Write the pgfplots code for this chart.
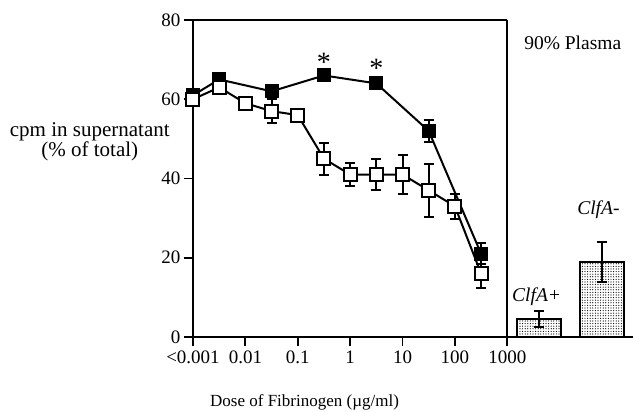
\documentclass[border=0pt]{standalone}
\usepackage{pgfplots}
\pgfplotsset{compat=1.18}
\usepackage{fontspec}
\setmainfont{Liberation Serif}
\usetikzlibrary{patterns.meta}
\begin{document}
\begin{tikzpicture}
\useasboundingbox (-193pt,-75pt) rectangle (440pt,337pt);
\begin{axis}[
 at={(0,0)}, anchor=south west,
 scale only axis, width=440pt, height=317pt,
 xmin=-3, xmax=5.4, ymin=0, ymax=80,
 axis x line*=bottom, axis y line*=left,
 axis line style={line width=1.8pt, -},
 xtick={-3,-2,-1,0,1,2,3}, xticklabels={<0.001,0.01,0.1,1,10,100,1000},
 ytick={0,20,40,60,80},
 tick align=outside, major tick length=9pt,
 tick style={line width=1.8pt, black},
 ticklabel style={font=\fontsize{19}{20}\selectfont},
 xticklabel style={yshift=-1pt},
 /pgf/number format/assume math mode=true,
 clip=false,
 every axis plot/.append style={line width=2pt},
 error bars/error bar style={line width=2pt},
 error bars/error mark options={rotate=90, mark size=5pt, line width=2pt},
]
% frame: top of main panel and divider at 1000
\draw[line width=1.8pt] (axis cs:-3,80) -- (axis cs:3,80);
\draw[line width=1.8pt] (axis cs:3,0) -- (axis cs:3,80);

% filled squares
\addplot[black, mark=square*, mark size=6.5pt, mark options={fill=black, line width=1pt},
  error bars/.cd, y dir=both, y explicit]
  coordinates {
  (-3,61) +- (0,0.8)
  (-2.5,65) +- (0,0.8)
  (-1.5,62) +- (0,1.5)
  (-0.5,66) +- (0,0.8)
  (0.5,64) +- (0,0.8)
  (1.5,52) +- (0,2.7)
  (2.5,21) +- (0,2.6)
  };
% open squares
\addplot[black, mark=square*, mark size=6.5pt, mark options={fill=white, line width=2pt},
  error bars/.cd, y dir=both, y explicit]
  coordinates {
  (-3,60) +- (0,0.8)
  (-2.5,63) +- (0,0.8)
  (-2,59) +- (0,0.8)
  (-1.5,57) +- (0,3)
  (-1,56) +- (0,0.8)
  (-0.5,45) +- (0,4)
  (0,41) +- (0,3)
  (0.5,41) +- (0,4)
  (1,41) +- (0,5)
  (1.5,37) +- (0,6.6)
  (2,33) +- (0,3.2)
  (2.5,16) +- (0,3.6)
  };
% bars (90% plasma)
\addplot[ybar, bar width=0.84, draw=black, line width=2pt,
  pattern={Dots[radius=0.6pt, distance=2.6pt]}, pattern color=black,
  error bars/.cd, y dir=both, y explicit]
  coordinates {
  (3.6,4.5) +- (0,2.1)
  (4.8,19) +- (0,5)
  };

\node[font=\fontsize{28}{28}\selectfont] at (axis cs:-0.5,69.3) {*};
\node[font=\fontsize{28}{28}\selectfont] at (axis cs:0.5,67.9) {*};

\node[font=\fontsize{19.5}{20}\selectfont] at (axis cs:4.25,74.3) {90\% Plasma};
\node[font=\fontsize{19.5}{20}\selectfont\itshape] at (axis cs:3.56,10.1) {ClfA+};
\node[font=\fontsize{19.5}{20}\selectfont\itshape] at (axis cs:4.74,32) {ClfA-};

\node[align=center, font=\fontsize{21}{20}\selectfont] at (axis cs:-4.97,49.3) {cpm in supernatant\\(\% of total)};
\node[font=\fontsize{17}{20}\selectfont] at (axis cs:-0.87,-16.5) {Dose of Fibrinogen (µg/ml)};
\end{axis}
\end{tikzpicture}
\end{document}
